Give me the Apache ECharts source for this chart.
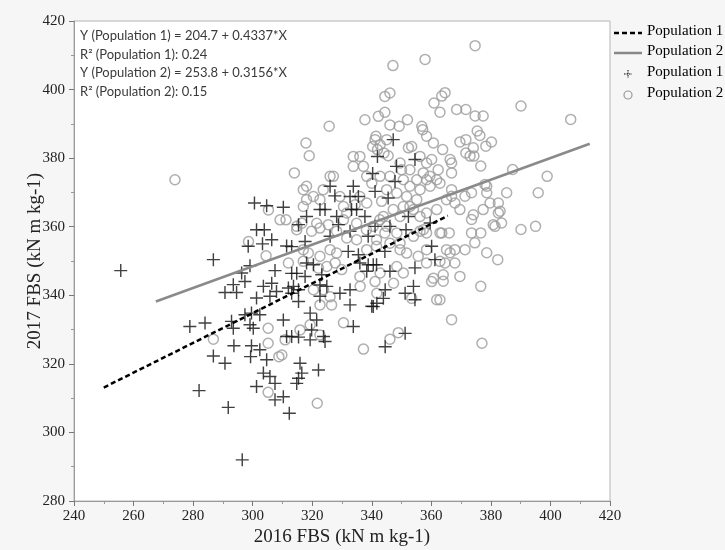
<!DOCTYPE html>
<html><head><meta charset="utf-8">
<script src="https://cdn.jsdelivr.net/npm/echarts@6/dist/echarts.min.js"></script>
<style>html,body{margin:0;padding:0;background:#f6f6f6}#c{width:725px;height:550px}</style>
</head><body><div id="c"></div>
<script>
// ---- data ----
const xAxisRange = [240, 420, 20];
const yAxisRange = [280, 420, 20];
const xTitle = '2016 FBS (kN m kg-1)';
const yTitle = '2017 FBS (kN m kg-1)';

// Population 1 (crosses)
const pop1 = [
[255.7,347.2],[286.8,350.4],[301.3,359.1],[303.9,359.1],[306.4,356.2],[303.3,355],[298.5,354.3],[299.1,348.6],[296.3,346.5],[297.4,344],[307.5,347.2],[293.5,343.1],[290.7,340.8],[294.6,340.8],[303.6,342.6],[306.4,343.5],[301.3,339.2],[305.8,339.7],[308,341.1],[278.9,330.9],[284,331.9],[292.9,332.4],[293.5,330.4],[297.4,334.3],[299.6,334.8],[302.4,334.3],[299.1,331.4],[300.2,330.4],[286.8,322.3],[290.7,320.2],[293.7,325.3],[299.6,325.3],[302.4,324.1],[299.3,322.1],[304.7,321.2],[303.6,317.3],[305.8,316.3],[307.5,314.3],[301.3,313.4],[307.5,309.5],[282,312.2],[291.8,307.3],[296.5,292],
[300.6,366.9],[304.7,366.1],[310.3,365.7],[315.4,360.6],[311.4,354.4],[313.1,354.2],[313.1,346.4],[314.8,346.4],
[312,342.1],[313.7,342.6],[315.4,341.6],[313.1,340.6],[315.4,338.2],[322.6,343],[324.9,342.6],[329.3,340.6],[332.7,341.6],[332.7,337.2],[340.5,336.7],[341.7,337.7],[343.9,339.1],[344.5,341.6],[351.2,340.6],[354,342.6],[354.5,338.7],[319.3,334.8],[321.5,332.8],[310.3,332.8],[333.8,330.9],[319.8,329.9],[311.4,328],[313.1,328],[315.4,327.8],[319.3,327],[323.8,328],[324.3,326.5],[351.2,328.9],[344.5,325],[315.9,320.2],[316.5,317.3],[315.4,315.8],[314.8,314.3],[322.1,318.2],[310.3,310.4],[312.3,305.6],
[322.6,339.7],[340,336.8],
[317.6,355.7],[326,357.2],[332.7,358.7],[338.8,357.2],[360.1,354.3],[361.2,350.4],[332.1,352.8],[335.5,351.8],[336,349.4],[338.8,348.9],[340.5,348.9],[341.6,348.9],[338.3,347],[344.4,352.8],[346.1,347],[354.5,348],[318.1,349.4],[320.4,348.9],[317.6,345.5],[323.2,346],
[328.8,360.6],[341.1,360.1],[346.1,360.1],[359.6,361.1],[351.5,359.1],
[347.2,385.4],[354.5,379.6],[341.9,380.5],[348.3,377.6],[340.3,375.5],[347.8,373.2],[341.1,370.3],[345.5,368.4],[333.8,371.8],[326,371.8],[327.6,369],[332.7,368.8],[335.5,368.8],[333.2,365],[334.9,365],[322.6,365],[324.3,365],[318.1,363],[328.2,363],[337.7,363],[352.3,363]
];

// Population 2 (circles)
const pop2 = [
[273.9,373.7],
[314,375.7],[317,370.8],[318.1,371.8],[318.1,367.9],[317,365.9],[305.3,364.9],[309.2,362],[311.2,362],[314.8,360.1],[314.8,359.1],[298.6,355.7],[304.5,351.5],[312,349.4],[317,349.9],[317,353.3],
[286.8,327.2],[305.2,326],[305.2,311.7],[308.8,322.1],[305.2,330.4],
[336.1,342.6],[341.1,344],[347.3,343.5],[341.7,340.6],[353.4,339.1],[361.8,338.7],[360.1,344],[320.4,341.6],[323.8,341.6],[326,339.6],[322.6,337.2],[326.5,337.2],[315.9,329.9],[319.3,331.4],[322.6,328.4],[330.5,332],[337.2,324.3],[346.1,327.2],[348.9,329.1],[309.8,322.6],[321.7,308.5],[310.9,327],
[319.8,358.7],[322.6,359.6],[328.2,358.7],[331.6,356.7],[334.9,356.2],[341.6,356.2],[344.4,358.2],[348.4,358.2],[349.5,355.2],[354,357.2],[356.2,358.7],[358.4,358.2],[362.9,358.2],[318.7,352.3],[322.6,351.4],[326,353.3],[328.2,352.3],[338.3,353.3],[341.6,354.3],[346.1,355.2],[349.5,353.3],[351.7,352.3],[355.6,351.4],[358.4,353.3],[322.1,347.9],[324.9,348.4],[327.7,349.4],[329.9,347.5],[336,345.5],[342.8,346.5],[348.4,348.4],[350.6,346.5],[358.4,349.4],[360.7,345],[362.9,349.9],
[357.9,408.8],[347.1,407],[346.1,399],[344.4,398],[360.9,396.1],[362.9,393.4],[337.7,391.2],[342.2,392.2],[344.4,393.4],[352,391.2],[349.2,389.3],[325.7,389.3],[317.9,384.4],[319,380.7],[356.8,389.3],[357.1,388.3],[358.4,386.4],[360.7,384.4],[341.4,386.4],[341.1,385.4],[345,385.4],[342.8,383.9],[344.1,381.5],[345.5,380.7],[341.9,382.5],[340.3,383.4],[352.3,383],[353.4,383.4],[356.2,380.5],[358.4,378.6],[360.1,379.6],[362.3,376.6],[361.8,373.7],[359.5,374.7],
[320.4,368.8],[326,374.7],[327.1,374.7],[323.7,370.8],[322.6,367.9],
[333.8,380.5],[336,380.5],[333.8,377.6],[337.2,377.6],[338.3,374.7],[340,372.7],[336,368.8],[338.3,366.9],[329.3,368.8],[330.5,365.9],[331.6,364],[342.8,374.7],[346.1,374.7],[349.5,378.6],[350,376.6],[352.8,376.6],[350.6,373.7],[352.8,371.8],[355.1,373.7],[357.3,375.7],[358.4,373.7],[356.2,370.8],[355.1,367.9],[359.6,371.8],[362.9,372.7],[345,370.8],[348.4,369.8],[351.7,368.8],[350.6,365.9],[347.2,365],[343.9,363],[349.5,363],[354,365],[356.2,363],[358.4,364],[361.8,365],[340.5,360.1],[334.9,361],[330.5,362],[321.5,361],[316.5,361],
[346.1,389.7],[338.2,359.1],[345,360.1],[342.7,362],[357.3,359.1],
[343.3,367.4],[334.4,366.4],[352.8,365.9],[325.4,360.6],
[374.7,412.8],[364.6,399.1],[363.5,398.1],[368.5,394.2],[371.6,394.2],[374.7,392.3],[377.4,392.3],[390.1,395.2],[406.8,391.3],[375.4,387.9],[376.3,386.6],[369.6,384.7],[371.6,385.4],[380.2,384.7],[378.3,383.5],[374.1,383],[371.6,381.5],[373,380.6],[374.3,380.6],[363.8,382.5],[366.3,379.6],[366.8,378.6],[366.8,375.7],[376.6,377.7],[387.3,376.7],[398.9,374.7],[395.9,369.9],[385.3,369.9],[378.6,371.8],[378.6,369.9],[373.5,369.9],[371.3,368.9],[366.8,370.8],[366.8,368.9],[365.1,367.9],[379.7,366.9],[382.5,366.9],[382.5,364],[377.4,365],[369.6,365],[373.5,362.1],[381.4,360.1],[383.6,361.1],[390.1,359.2],[395,360.1],[366,358.2],[373.5,358.2],[376.6,358.2],[363.5,358.2],[374.6,355.3],[378.6,352.4],[382.3,350.4],[365.1,353.3],[367.9,353.3],[371.3,353.3],[366.3,352.4],[364.6,349.4],[367.9,349.4],[369.6,345.5],[364,346],[364,344.1],[376.6,342.6],[362.9,338.7],[366.8,332.9],[378,372.3],[367.9,366.9],[383.1,364.5],[374.1,363.5],[380.8,360.6],[377,326]
];

// fitted lines (end points)
const fit1 = [[250,313.1],[365.5,363.2]];
const fit2 = [[267.5,338.2],[413.2,384.2]];

const noteLines = [
  'Y (Population 1) = 204.7 + 0.4337*X',
  'R\u00B2 (Population 1): 0.24',
  'Y (Population 2) = 253.8 + 0.3156*X',
  'R\u00B2 (Population 2): 0.15'
];
const legendLabels = ['Population 1','Population 2','Population 1','Population 2'];

// ---- chart ----
const chart = echarts.init(document.getElementById('c'), null, {renderer:'canvas'});
const SERIF = '"Liberation Serif","Times New Roman",serif';
const crossPath = 'path://M4.45,0h1.1v4.45h4.45v1.1h-4.45v4.45h-1.1v-4.45h-4.45v-1.1h4.45z';

const graphics = [];
noteLines.forEach((t,i)=>{
  graphics.push({type:'text', left:80, top:29+i*18.9, z:100,
    style:{text:t, fill:'#3a3a3a', font:'13px Lato, "Noto Sans", sans-serif'}});
});
const legY = [33,53,74,95];
graphics.push({type:'line', shape:{x1:614,y1:legY[0],x2:642,y2:legY[0]}, style:{stroke:'#000',lineWidth:2.5,lineDash:[5,3]}});
graphics.push({type:'line', shape:{x1:614,y1:legY[1],x2:642,y2:legY[1]}, style:{stroke:'#888',lineWidth:2.5}});
graphics.push({type:'line', shape:{x1:624,y1:legY[2],x2:632,y2:legY[2]}, style:{stroke:'#000',lineWidth:1,lineDash:[1.5,1]}});
graphics.push({type:'line', shape:{x1:628,y1:legY[2]-4,x2:628,y2:legY[2]+4}, style:{stroke:'#000',lineWidth:1,lineDash:[1.5,1]}});
graphics.push({type:'circle', shape:{cx:628,cy:legY[3],r:4}, style:{stroke:'#999',lineWidth:1.2,fill:'none'}});
legendLabels.forEach((t,i)=>{
  graphics.push({type:'text', left:647, top:legY[i]-9,
    style:{text:t, fill:'#000', font:'15px '+SERIF}});
});

const axisCommon = {
  axisLine:{show:true, lineStyle:{color:'#9a9a9a'}},
  axisTick:{show:true, inside:false, length:5, lineStyle:{color:'#777'}},
  minorTick:{show:true, splitNumber:2, length:3, lineStyle:{color:'#999'}},
  splitLine:{show:false},
  axisLabel:{color:'#222', fontFamily:SERIF, fontSize:15},
  nameLocation:'middle',
  nameMoveOverlap:false,
  nameTextStyle:{color:'#222', fontFamily:SERIF, fontSize:19}
};

chart.setOption({
  backgroundColor:'#f6f6f6',
  animation:false,
  grid:{left:74, right:115, top:21, bottom:49, show:true, backgroundColor:'#fff', borderColor:'#b5b5b5', borderWidth:1, containLabel:false, outerBoundsMode:'none'},
  xAxis:Object.assign({}, axisCommon, {type:'value', min:xAxisRange[0], max:xAxisRange[1], interval:xAxisRange[2], name:xTitle, nameGap:27, axisLabel:Object.assign({}, axisCommon.axisLabel, {margin:8})}),
  yAxis:Object.assign({}, axisCommon, {type:'value', min:yAxisRange[0], max:yAxisRange[1], interval:yAxisRange[2], name:yTitle, nameGap:29, axisLabel:Object.assign({}, axisCommon.axisLabel, {margin:9})}),
  graphic:graphics,
  series:[
    {type:'scatter', name:'Population 2', data:pop2, symbol:'circle', symbolSize:10, z:2,
      itemStyle:{color:'rgba(0,0,0,0)', borderColor:'#9b9b9b', borderWidth:1.5}},
    {type:'scatter', name:'Population 1', data:pop1, symbol:crossPath, symbolSize:13, z:3,
      itemStyle:{color:'#111'}},
    {type:'line', name:'Fit 1', data:fit1, symbol:'none', z:4,
      lineStyle:{color:'#000', width:2.5, type:[5,3]}},
    {type:'line', name:'Fit 2', data:fit2, symbol:'none', z:4,
      lineStyle:{color:'#8a8a8a', width:2.5}}
  ]
});
</script></body></html>
